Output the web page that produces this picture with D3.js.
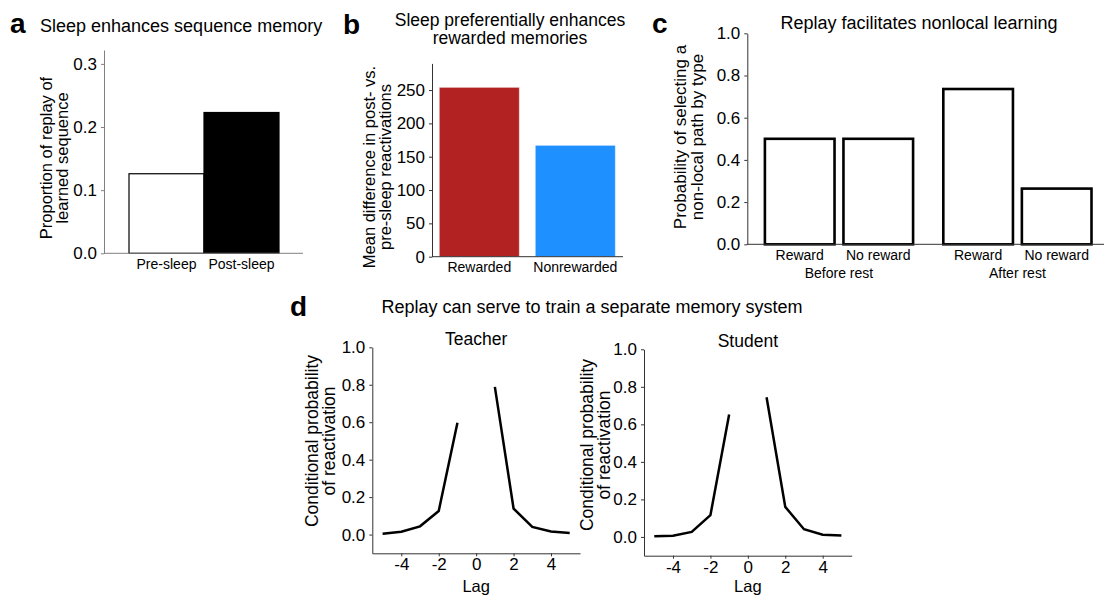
<!DOCTYPE html>
<html>
<head>
<meta charset="utf-8">
<script src="https://cdn.jsdelivr.net/npm/d3@7"></script>
<style>
  body { margin: 0; background: #fff; }
  text { font-family: "Liberation Sans", Arial, sans-serif; fill: #000; }
</style>
</head>
<body>
<script>
  // ---- data ----
  const sleepCats = ['Pre-sleep', 'Post-sleep'];
  const sleepVals = [0.126, 0.223];
  const sleepTicks = [0, 0.1, 0.2, 0.3];

  const rewardCats = ['Rewarded', 'Nonrewarded'];
  const rewardVals = [254, 167];
  const rewardColors = ['#b22222', '#1e90ff'];
  const rewardTicks = [0, 50, 100, 150, 200, 250];

  const restGroups = ['Before rest', 'After rest'];
  const rewardTypes = ['Reward', 'No reward'];
  const beforeRest = [0.50, 0.50];
  const afterRest = [0.736, 0.264];
  const probTicks = [0, 0.2, 0.4, 0.6, 0.8, 1.0];

  const lags = [-5, -4, -3, -2, -1, 0, 1, 2, 3, 4, 5];
  const teacher = [0.005, 0.015, 0.044, 0.126, 0.597, null, 0.789, 0.139, 0.041, 0.017, 0.008];
  const student = [0.003, 0.006, 0.027, 0.116, 0.653, null, 0.744, 0.160, 0.041, 0.012, 0.008];
  const lagTicks = [-4, -2, 0, 2, 4];

  const svg = d3.select('body').append('svg')
    .attr('width', 1104).attr('height', 597);

  // small helpers
  function label(x, y, txt, size, opts) {
    opts = opts || {};
    return svg.append('text')
      .attr('x', x).attr('y', y)
      .attr('font-size', size)
      .attr('font-weight', opts.bold ? 'bold' : null)
      .attr('text-anchor', opts.anchor || 'start')
      .text(txt);
  }
  // rotated two-line axis title, cx = baseline of first line
  function ylabel(cx, cy, lines, size, gap) {
    const t = svg.append('text')
      .attr('transform', `translate(${cx},${cy}) rotate(-90)`)
      .attr('text-anchor', 'middle')
      .attr('font-size', size);
    lines.forEach((l, i) => t.append('tspan').attr('x', 0).attr('y', i * gap).text(l));
  }
  function yaxis(scale, x, ticks, fmt, size, color) {
    const g = svg.append('g').attr('transform', `translate(${x},0)`)
      .call(d3.axisLeft(scale).tickValues(ticks).tickFormat(fmt).tickSize(3).tickPadding(4).tickSizeOuter(0));
    g.selectAll('text').attr('font-size', size).style('font-family', '"Liberation Sans", Arial, sans-serif');
    g.selectAll('line, path').attr('stroke', color);
    return g;
  }
  function spine(x1, x2, y, color) {
    svg.append('line').attr('x1', x1).attr('x2', x2).attr('y1', y).attr('y2', y)
      .attr('stroke', color).attr('stroke-width', 1);
  }

  // ---- panel a ----
  const ya = d3.scaleLinear().domain([0, 0.322]).range([253.3, 50]);
  const xa = d3.scaleBand().domain(sleepCats).range([129, 279]).padding(0);
  svg.append('g').selectAll('rect').data(sleepVals).join('rect')
    .attr('x', (d, i) => xa(sleepCats[i]))
    .attr('width', xa.bandwidth())
    .attr('y', d => ya(d))
    .attr('height', d => ya(0) - ya(d))
    .attr('fill', (d, i) => i === 0 ? '#fff' : '#000')
    .attr('stroke', '#000').attr('stroke-width', 1.2);
  yaxis(ya, 104, sleepTicks, d3.format('.1f'), 17, '#808080');
  spine(104, 303, ya(0), '#808080');
  sleepCats.forEach(c => label(xa(c) + xa.bandwidth() / 2, 269, c, 14, {anchor: 'middle'}));
  ylabel(52, 158, ['Proportion of replay of', 'learned sequence'], 16.5, 15.5);
  label(10, 33, 'a', 28, {bold: true});
  label(40, 32, 'Sleep enhances sequence memory', 18);

  // ---- panel b ----
  const yb = d3.scaleLinear().domain([0, 290]).range([256.7, 63.4]);
  const xb = d3.scaleBand().domain(rewardCats).range([439.3, 615.3]).paddingInner(0.167);
  svg.append('g').selectAll('rect').data(rewardVals).join('rect')
    .attr('x', (d, i) => xb(rewardCats[i]))
    .attr('width', xb.bandwidth())
    .attr('y', d => yb(d))
    .attr('height', d => yb(0) - yb(d))
    .attr('fill', (d, i) => rewardColors[i])
    .attr('stroke', '#fff').attr('stroke-opacity', 0.4).attr('stroke-width', 1);
  yaxis(yb, 432, rewardTicks, d3.format('d'), 17, '#333');
  spine(432, 623, yb(0), '#333');
  rewardCats.forEach(c => label(xb(c) + xb.bandwidth() / 2, 272, c, 14, {anchor: 'middle'}));
  ylabel(375, 167, ['Mean difference in post- vs.', 'pre-sleep reactivations'], 16.5, 15.5);
  label(343, 34, 'b', 28, {bold: true});
  label(510, 26, 'Sleep preferentially enhances', 17.5, {anchor: 'middle'});
  label(510, 44, 'rewarded memories', 17.5, {anchor: 'middle'});

  // ---- panel c ----
  const yc = d3.scaleLinear().domain([0, 1]).range([244.3, 33.3]);
  const xc = d3.scaleBand().domain(restGroups).range([763.7, 1092.7]).paddingInner(0.156);
  const xcInner = d3.scaleBand().domain(rewardTypes).range([0, xc.bandwidth()]).paddingInner(0.083);
  const restVals = [beforeRest, afterRest];
  restGroups.forEach((grp, gi) => {
    const gg = svg.append('g').attr('transform', `translate(${xc(grp)},0)`);
    gg.selectAll('rect').data(restVals[gi]).join('rect')
      .attr('x', (d, i) => xcInner(rewardTypes[i]) + 1.2)
      .attr('width', xcInner.bandwidth() - 2.4)
      .attr('y', d => yc(d))
      .attr('height', d => yc(0) - yc(d))
      .attr('fill', '#fff')
      .attr('stroke', '#000').attr('stroke-width', 2.6);
    rewardTypes.forEach(t => label(xc(grp) + xcInner(t) + xcInner.bandwidth() / 2, 260, t, 14, {anchor: 'middle'}));
    label(xc(grp) + xc.bandwidth() / 2, 278, grp, 14, {anchor: 'middle'});
  });
  yaxis(yc, 747.3, probTicks, d3.format('.1f'), 17, '#333');
  spine(747.3, 1104, yc(0), '#333');
  ylabel(686, 137, ['Probability of selecting a', 'non-local path by type'], 17, 16.5);
  label(652, 33, 'c', 28, {bold: true});
  label(919, 29, 'Replay facilitates nonlocal learning', 18, {anchor: 'middle'});

  // ---- panel d ----
  label(290, 316, 'd', 28, {bold: true});
  label(592, 313, 'Replay can serve to train a separate memory system', 18, {anchor: 'middle'});

  function lagPanel(vals, title, xr, yr, labelX, labelY) {
    const x = d3.scaleLinear().domain([-5.55, 5.55]).range(xr);
    const y = d3.scaleLinear().domain([-0.1, 1.0]).range(yr);
    const gx = svg.append('g').attr('transform', `translate(0,${yr[0]})`)
      .call(d3.axisBottom(x).tickValues(lagTicks).tickFormat(d => String(d))
        .tickSize(3).tickPadding(2).tickSizeOuter(0));
    gx.selectAll('text').attr('font-size', 17).style('font-family', '"Liberation Sans", Arial, sans-serif');
    gx.selectAll('line, path').attr('stroke', '#333');
    yaxis(y, xr[0], probTicks, d3.format('.1f'), 17, '#333');
    const line = d3.line()
      .defined(d => d.v !== null)
      .x(d => x(d.lag)).y(d => y(d.v));
    svg.append('path')
      .datum(lags.map((l, i) => ({lag: l, v: vals[i]})))
      .attr('d', line)
      .attr('fill', 'none').attr('stroke', '#000').attr('stroke-width', 2.5);
    label(x(0), yr[1] - 2, title, 17.5, {anchor: 'middle'});
    label(x(0), 592, 'Lag', 16.5, {anchor: 'middle'});
    ylabel(labelX, labelY, ['Conditional probability', 'of reactivation'], 17.5, 17);
  }
  lagPanel(teacher, 'Teacher', [372.3, 580], [553.3, 347.3], 318, 441);
  lagPanel(student, 'Student', [644, 851.7], [555.7, 349.3], 593, 445);
</script>
</body>
</html>
